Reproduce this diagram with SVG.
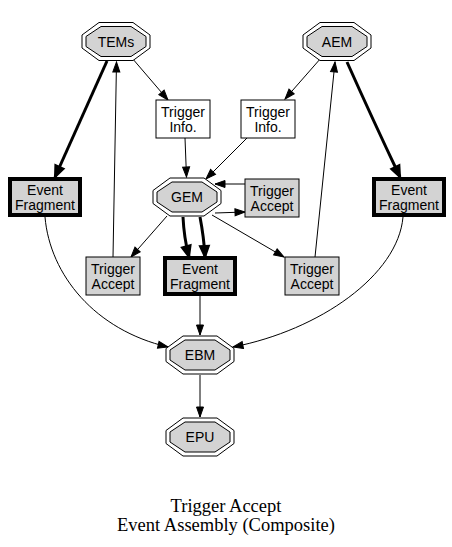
<svg xmlns="http://www.w3.org/2000/svg" xmlns:xlink="http://www.w3.org/1999/xlink" width="452" height="547" viewBox="0 0 452 547">
<style>
text{font-family:"Liberation Sans",Arial,sans-serif;font-size:14px;text-anchor:middle;fill:#000}
.title{font-family:"Liberation Serif","Times New Roman",serif;font-size:18.5px}
.box{fill:#fff;stroke:#000;stroke-width:1}
.gray{fill:#d3d3d3;stroke:#000;stroke-width:1}
.frag{fill:#d3d3d3;stroke:#000;stroke-width:4}
.e{fill:none;stroke:#000;stroke-width:1;marker-end:url(#a)}
.t{fill:none;stroke:#000;stroke-width:3;marker-end:url(#at)}
</style>
<defs>
<marker id="a" markerUnits="userSpaceOnUse" markerWidth="12" markerHeight="9" refX="10" refY="3.5" orient="auto" overflow="visible">
<path d="M0,0 L10,3.5 L0,7 z" fill="#000" stroke="#000" stroke-width="1"/>
</marker>
<marker id="at" markerUnits="userSpaceOnUse" markerWidth="14" markerHeight="12" refX="11" refY="4.5" orient="auto" overflow="visible">
<path d="M0,0 L11,4.5 L0,9 z" fill="#000" stroke="#000" stroke-width="2"/>
</marker>
<g id="oct">
<polygon points="-17,-19 17,-19 34,-6.5 34,6.5 17,19 -17,19 -34,6.5 -34,-6.5" fill="#fff" stroke="#000" stroke-width="1"/>
<polygon points="-15,-15 15,-15 30,-5 30,5 15,15 -15,15 -30,5 -30,-5" fill="#d3d3d3" stroke="#000" stroke-width="1"/>
</g>
</defs>

<g id="edges">
<path class="e" d="M132,58 L168,100"/>
<path class="t" d="M107,61 L55,177"/>
<path class="e" d="M113,257 L116.5,62"/>
<path class="e" d="M321,58 L285,99"/>
<path class="t" d="M347,62 Q372,118 400,177"/>
<path class="e" d="M315,257 L335,62"/>
<path class="e" d="M185,138 L186.5,177"/>
<path class="e" d="M247,138 L206,179"/>
<path class="e" d="M245,184 L215,184"/>
<path class="e" d="M215,213 L245,212"/>
<path class="e" d="M167,216 L131,257"/>
<path class="t" d="M183,217 Q184,238 189,257"/>
<path class="t" d="M200,217 Q204,238 205,257"/>
<path class="e" d="M212,215 L284,257"/>
<path class="e" d="M45,217 C50,275 95,330 168,347"/>
<path class="e" d="M403,217 C398,275 320,330 233,347"/>
<path class="e" d="M200,296 L200,335"/>
<path class="e" d="M200,375 L200,417"/>
</g>

<g id="TEMs"><use xlink:href="#oct" x="116" y="41.5"/><text x="116" y="46.5">TEMs</text></g>
<g id="AEM"><use xlink:href="#oct" x="337" y="41.5"/><text x="337" y="46.5">AEM</text></g>
<g id="TriggerInfoL"><rect class="box" x="156" y="100" width="54" height="38"/><text x="183" y="117">Trigger</text><text x="183" y="132">Info.</text></g>
<g id="TriggerInfoR"><rect class="box" x="241" y="100" width="54" height="38"/><text x="268" y="117">Trigger</text><text x="268" y="132">Info.</text></g>
<g id="GEM"><use xlink:href="#oct" x="187" y="197"/><text x="187" y="202">GEM</text></g>
<g id="TriggerAcceptTop"><rect class="gray" x="245" y="179" width="54" height="38"/><text x="272" y="196">Trigger</text><text x="272" y="211">Accept</text></g>
<g id="EventFragmentL"><rect class="frag" x="10" y="179" width="70" height="36"/><text x="45" y="195">Event</text><text x="45" y="210">Fragment</text></g>
<g id="EventFragmentR"><rect class="frag" x="374" y="179" width="70" height="36"/><text x="409" y="195">Event</text><text x="409" y="210">Fragment</text></g>
<g id="TriggerAcceptL"><rect class="gray" x="86" y="257" width="54" height="38"/><text x="113" y="274">Trigger</text><text x="113" y="289">Accept</text></g>
<g id="EventFragmentM"><rect class="frag" x="165" y="258" width="70" height="36"/><text x="200" y="274">Event</text><text x="200" y="289">Fragment</text></g>
<g id="TriggerAcceptR"><rect class="gray" x="285" y="257" width="54" height="38"/><text x="312" y="274">Trigger</text><text x="312" y="289">Accept</text></g>
<g id="EBM"><use xlink:href="#oct" x="200" y="355"/><text x="200" y="360">EBM</text></g>
<g id="EPU"><use xlink:href="#oct" x="200" y="437"/><text x="200" y="442">EPU</text></g>

<g id="title">
<text class="title" x="226" y="512">Trigger Accept</text>
<text class="title" x="226" y="531">Event Assembly (Composite)</text>
</g>
</svg>
